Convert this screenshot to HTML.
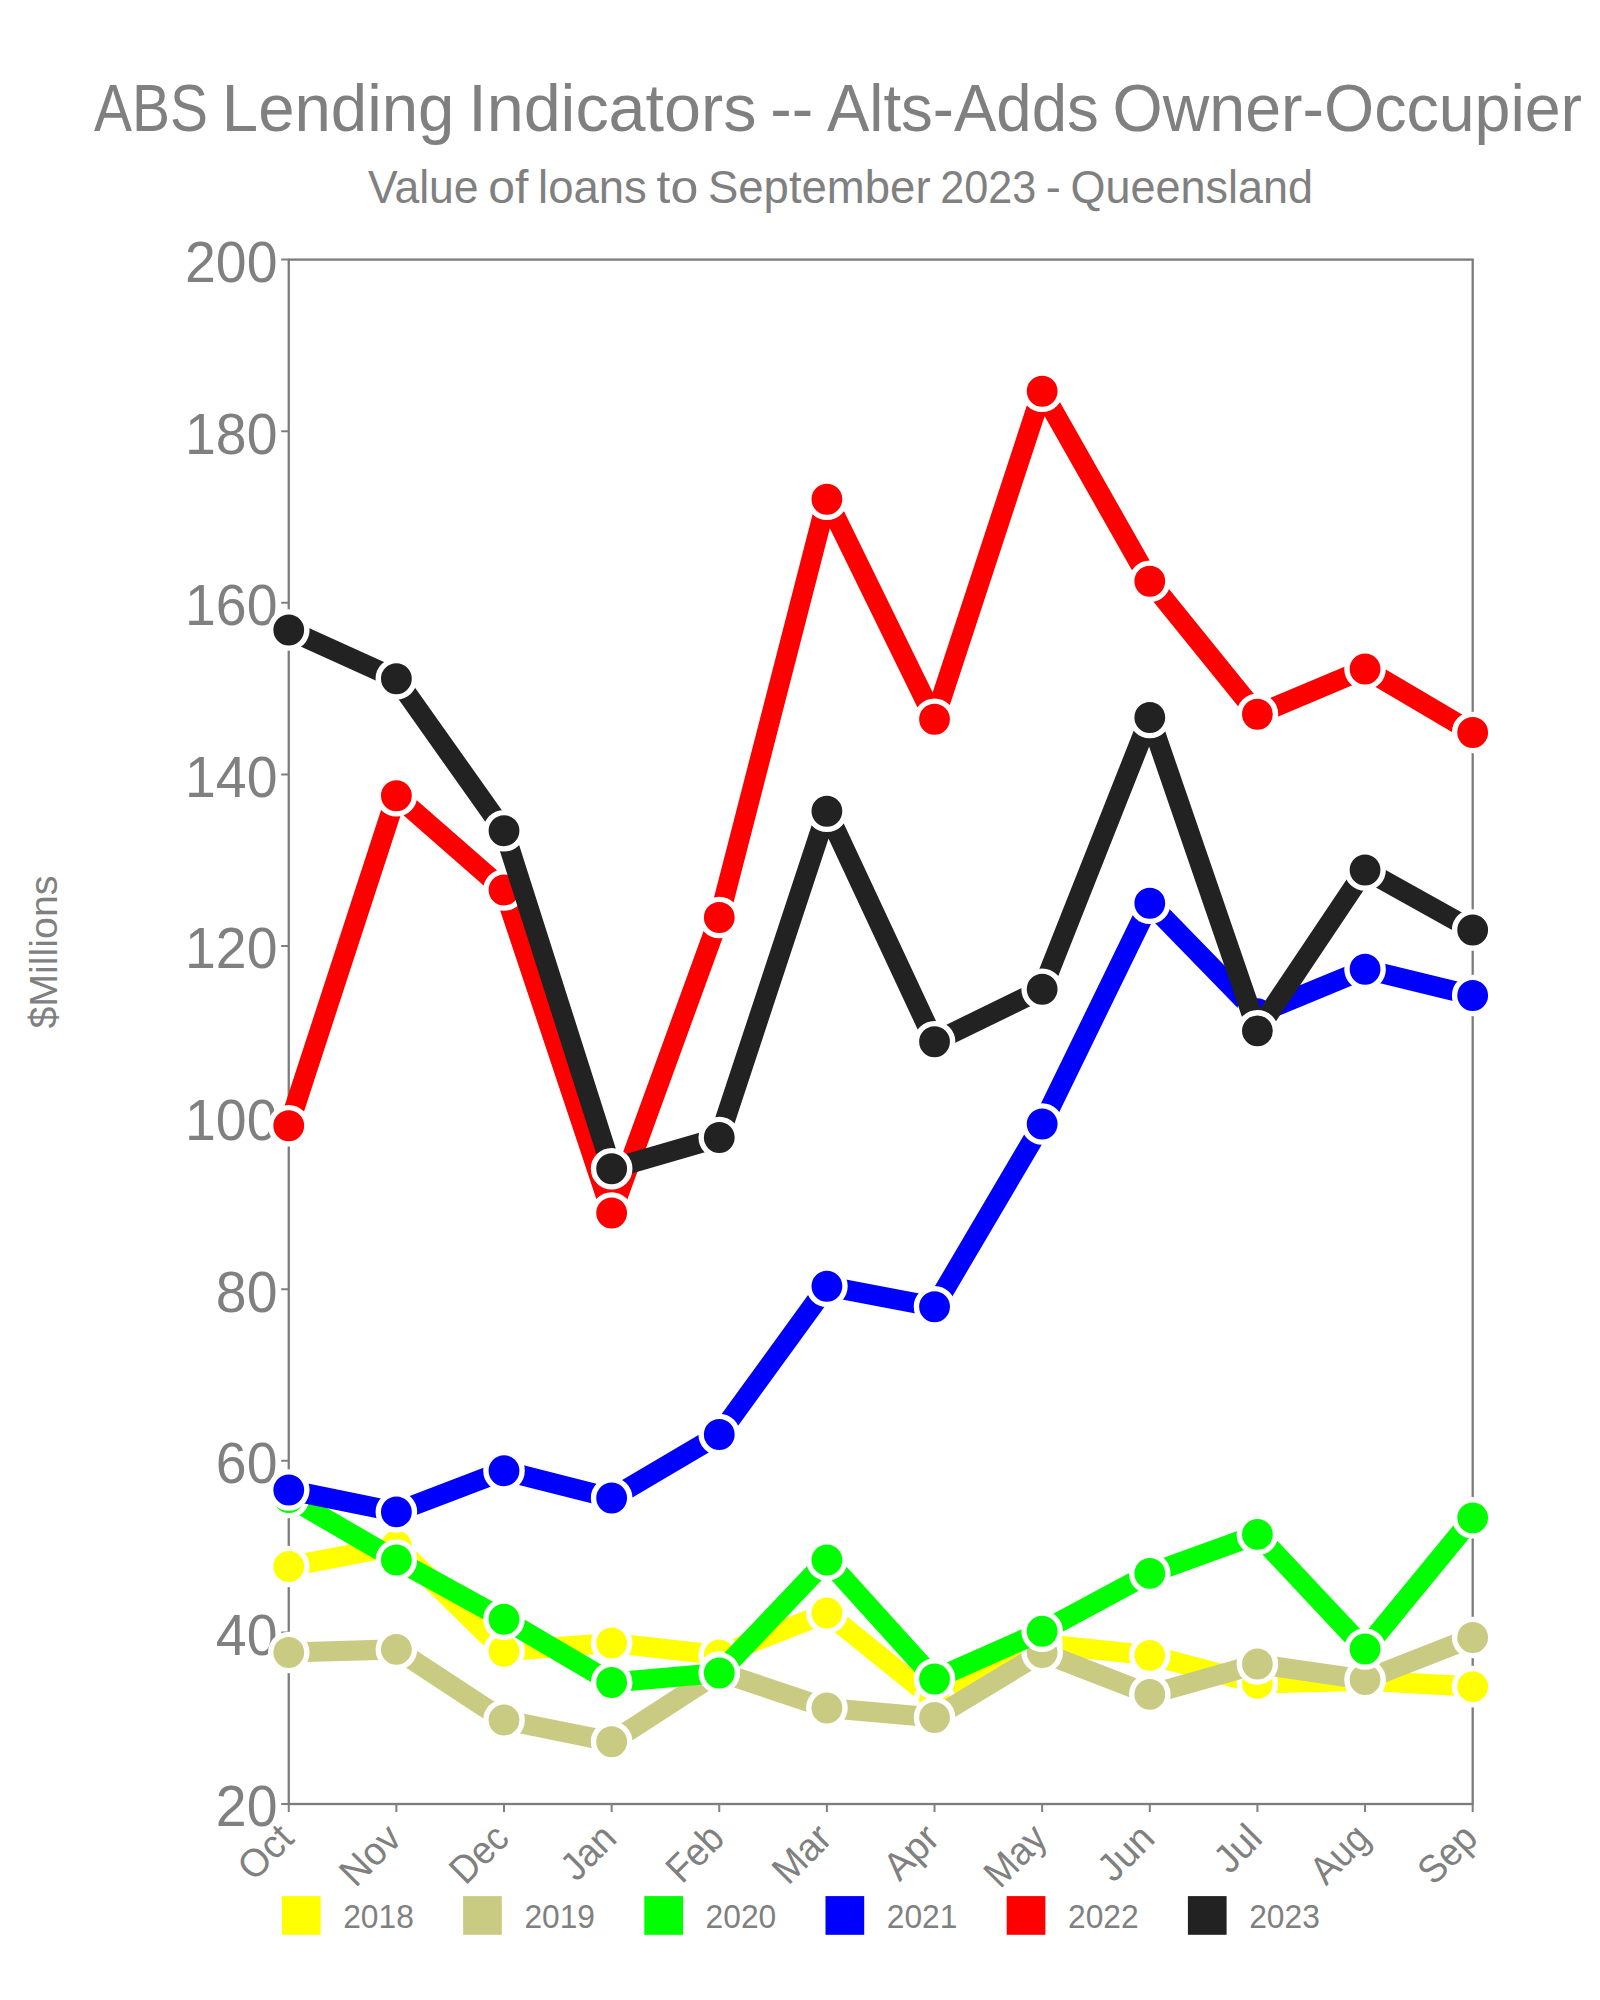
<!DOCTYPE html>
<html lang="en"><head><meta charset="utf-8"><title>ABS Lending Indicators -- Alts-Adds Owner-Occupier</title>
<style>html,body{margin:0;padding:0;background:#fff}body{width:1600px;height:2000px;overflow:hidden}svg{display:block}text{font-family:'Liberation Sans', sans-serif;fill:#808080}</style></head><body>
<svg width="1600" height="2000" viewBox="0 0 1600 2000">
<rect width="1600" height="2000" fill="#ffffff"/>
<text y="130.75" font-size="66.20"><tspan x="94.10" textLength="113.98" lengthAdjust="spacingAndGlyphs">ABS</tspan> <tspan x="221.87" textLength="232.55" lengthAdjust="spacingAndGlyphs">Lending</tspan> <tspan x="468.20" textLength="288.23" lengthAdjust="spacingAndGlyphs">Indicators</tspan> <tspan x="770.23" textLength="42.93" lengthAdjust="spacingAndGlyphs">--</tspan> <tspan x="826.97" textLength="271.81" lengthAdjust="spacingAndGlyphs">Alts-Adds</tspan> <tspan x="1112.56" textLength="469.56" lengthAdjust="spacingAndGlyphs">Owner-Occupier</tspan></text>
<text y="202.50" font-size="46.20"><tspan x="368.00" textLength="110.61" lengthAdjust="spacingAndGlyphs">Value</tspan> <tspan x="488.25" textLength="40.16" lengthAdjust="spacingAndGlyphs">of</tspan> <tspan x="538.05" textLength="108.77" lengthAdjust="spacingAndGlyphs">loans</tspan> <tspan x="656.46" textLength="41.82" lengthAdjust="spacingAndGlyphs">to</tspan> <tspan x="707.92" textLength="222.65" lengthAdjust="spacingAndGlyphs">September</tspan> <tspan x="940.21" textLength="95.97" lengthAdjust="spacingAndGlyphs">2023</tspan> <tspan x="1045.81" textLength="15.02" lengthAdjust="spacingAndGlyphs">-</tspan> <tspan x="1070.48" textLength="242.64" lengthAdjust="spacingAndGlyphs">Queensland</tspan></text>
<g fill="none" stroke="#7c7c7c" stroke-width="2.3">
<rect x="288.75" y="259.60" width="1183.95" height="1544.40"/>
<path d="M281.15 1804.00H288.75M281.15 1632.40H288.75M281.15 1460.80H288.75M281.15 1289.20H288.75M281.15 1117.60H288.75M281.15 946.00H288.75M281.15 774.40H288.75M281.15 602.80H288.75M281.15 431.20H288.75M281.15 259.60H288.75M288.75 1804.00V1812.00M396.38 1804.00V1812.00M504.01 1804.00V1812.00M611.64 1804.00V1812.00M719.27 1804.00V1812.00M826.90 1804.00V1812.00M934.53 1804.00V1812.00M1042.16 1804.00V1812.00M1149.79 1804.00V1812.00M1257.42 1804.00V1812.00M1365.05 1804.00V1812.00M1472.68 1804.00V1812.00" stroke="#808080" stroke-width="2"/>
</g>
<g>
<text x="277.50" y="1826.40" font-size="58.00" text-anchor="end" textLength="61.64" lengthAdjust="spacingAndGlyphs">20</text>
<text x="277.50" y="1654.80" font-size="58.00" text-anchor="end" textLength="61.64" lengthAdjust="spacingAndGlyphs">40</text>
<text x="277.50" y="1483.20" font-size="58.00" text-anchor="end" textLength="61.64" lengthAdjust="spacingAndGlyphs">60</text>
<text x="277.50" y="1311.60" font-size="58.00" text-anchor="end" textLength="61.64" lengthAdjust="spacingAndGlyphs">80</text>
<text x="277.50" y="1140.00" font-size="58.00" text-anchor="end" textLength="92.45" lengthAdjust="spacingAndGlyphs">100</text>
<text x="277.50" y="968.40" font-size="58.00" text-anchor="end" textLength="92.45" lengthAdjust="spacingAndGlyphs">120</text>
<text x="277.50" y="796.80" font-size="58.00" text-anchor="end" textLength="92.45" lengthAdjust="spacingAndGlyphs">140</text>
<text x="277.50" y="625.20" font-size="58.00" text-anchor="end" textLength="92.45" lengthAdjust="spacingAndGlyphs">160</text>
<text x="277.50" y="453.60" font-size="58.00" text-anchor="end" textLength="92.45" lengthAdjust="spacingAndGlyphs">180</text>
<text x="277.50" y="282.00" font-size="58.00" text-anchor="end" textLength="92.45" lengthAdjust="spacingAndGlyphs">200</text>
</g>
<text x="57.00" y="952.00" font-size="39.30" text-anchor="middle" textLength="153.10" lengthAdjust="spacingAndGlyphs" transform="rotate(-90 57.00 952.00)">$Millions</text>
<g>
<text x="295.75" y="1840.50" font-size="39.30" text-anchor="end" textLength="59.40" lengthAdjust="spacingAndGlyphs" transform="rotate(-45 295.75 1840.50)">Oct</text>
<text x="403.38" y="1840.50" font-size="39.30" text-anchor="end" textLength="67.75" lengthAdjust="spacingAndGlyphs" transform="rotate(-45 403.38 1840.50)">Nov</text>
<text x="511.01" y="1840.50" font-size="39.30" text-anchor="end" textLength="64.25" lengthAdjust="spacingAndGlyphs" transform="rotate(-45 511.01 1840.50)">Dec</text>
<text x="618.64" y="1840.50" font-size="39.30" text-anchor="end" textLength="59.70" lengthAdjust="spacingAndGlyphs" transform="rotate(-45 618.64 1840.50)">Jan</text>
<text x="726.27" y="1840.50" font-size="39.30" text-anchor="end" textLength="62.70" lengthAdjust="spacingAndGlyphs" transform="rotate(-45 726.27 1840.50)">Feb</text>
<text x="833.90" y="1840.50" font-size="39.30" text-anchor="end" textLength="64.70" lengthAdjust="spacingAndGlyphs" transform="rotate(-45 833.90 1840.50)">Mar</text>
<text x="941.53" y="1840.50" font-size="39.30" text-anchor="end" textLength="59.25" lengthAdjust="spacingAndGlyphs" transform="rotate(-45 941.53 1840.50)">Apr</text>
<text x="1049.16" y="1840.50" font-size="39.30" text-anchor="end" textLength="69.60" lengthAdjust="spacingAndGlyphs" transform="rotate(-45 1049.16 1840.50)">May</text>
<text x="1156.79" y="1840.50" font-size="39.30" text-anchor="end" textLength="61.20" lengthAdjust="spacingAndGlyphs" transform="rotate(-45 1156.79 1840.50)">Jun</text>
<text x="1264.42" y="1840.50" font-size="39.30" text-anchor="end" textLength="49.20" lengthAdjust="spacingAndGlyphs" transform="rotate(-45 1264.42 1840.50)">Jul</text>
<text x="1372.05" y="1840.50" font-size="39.30" text-anchor="end" textLength="65.00" lengthAdjust="spacingAndGlyphs" transform="rotate(-45 1372.05 1840.50)">Aug</text>
<text x="1479.68" y="1840.50" font-size="39.30" text-anchor="end" textLength="65.00" lengthAdjust="spacingAndGlyphs" transform="rotate(-45 1479.68 1840.50)">Sep</text>
</g>
<g><polyline points="288.75,1566.50 396.38,1546.00 504.01,1651.25 611.64,1643.00 719.27,1655.00 826.90,1613.00 934.53,1700.00 1042.16,1644.00 1149.79,1655.30 1257.42,1683.40 1365.05,1680.60 1472.68,1686.60" fill="none" stroke="#ffff00" stroke-width="20.2" stroke-linejoin="round" stroke-linecap="butt"/>
<g fill="#ffff00" stroke="#ffffff" stroke-width="5.4">
<circle cx="288.75" cy="1566.50" r="18.1"/>
<circle cx="396.38" cy="1546.00" r="18.1"/>
<circle cx="504.01" cy="1651.25" r="18.1"/>
<circle cx="611.64" cy="1643.00" r="18.1"/>
<circle cx="719.27" cy="1655.00" r="18.1"/>
<circle cx="826.90" cy="1613.00" r="18.1"/>
<circle cx="934.53" cy="1700.00" r="18.1"/>
<circle cx="1042.16" cy="1644.00" r="18.1"/>
<circle cx="1149.79" cy="1655.30" r="18.1"/>
<circle cx="1257.42" cy="1683.40" r="18.1"/>
<circle cx="1365.05" cy="1680.60" r="18.1"/>
<circle cx="1472.68" cy="1686.60" r="18.1"/>
</g></g>
<g><polyline points="288.75,1652.50 396.38,1649.40 504.01,1720.00 611.64,1741.75 719.27,1672.00 826.90,1708.00 934.53,1717.50 1042.16,1652.50 1149.79,1694.40 1257.42,1664.00 1365.05,1679.70 1472.68,1637.50" fill="none" stroke="#cacb82" stroke-width="20.2" stroke-linejoin="round" stroke-linecap="butt"/>
<g fill="#cacb82" stroke="#ffffff" stroke-width="5.4">
<circle cx="288.75" cy="1652.50" r="18.1"/>
<circle cx="396.38" cy="1649.40" r="18.1"/>
<circle cx="504.01" cy="1720.00" r="18.1"/>
<circle cx="611.64" cy="1741.75" r="18.1"/>
<circle cx="719.27" cy="1672.00" r="18.1"/>
<circle cx="826.90" cy="1708.00" r="18.1"/>
<circle cx="934.53" cy="1717.50" r="18.1"/>
<circle cx="1042.16" cy="1652.50" r="18.1"/>
<circle cx="1149.79" cy="1694.40" r="18.1"/>
<circle cx="1257.42" cy="1664.00" r="18.1"/>
<circle cx="1365.05" cy="1679.70" r="18.1"/>
<circle cx="1472.68" cy="1637.50" r="18.1"/>
</g></g>
<g><polyline points="288.75,1497.50 396.38,1560.00 504.01,1619.25 611.64,1682.50 719.27,1673.00 826.90,1560.00 934.53,1679.00 1042.16,1631.25 1149.79,1573.40 1257.42,1534.40 1365.05,1649.00 1472.68,1517.80" fill="none" stroke="#00ff00" stroke-width="20.2" stroke-linejoin="round" stroke-linecap="butt"/>
<g fill="#00ff00" stroke="#ffffff" stroke-width="5.4">
<circle cx="288.75" cy="1497.50" r="18.1"/>
<circle cx="396.38" cy="1560.00" r="18.1"/>
<circle cx="504.01" cy="1619.25" r="18.1"/>
<circle cx="611.64" cy="1682.50" r="18.1"/>
<circle cx="719.27" cy="1673.00" r="18.1"/>
<circle cx="826.90" cy="1560.00" r="18.1"/>
<circle cx="934.53" cy="1679.00" r="18.1"/>
<circle cx="1042.16" cy="1631.25" r="18.1"/>
<circle cx="1149.79" cy="1573.40" r="18.1"/>
<circle cx="1257.42" cy="1534.40" r="18.1"/>
<circle cx="1365.05" cy="1649.00" r="18.1"/>
<circle cx="1472.68" cy="1517.80" r="18.1"/>
</g></g>
<g><polyline points="288.75,1490.00 396.38,1511.90 504.01,1470.75 611.64,1498.00 719.27,1434.50 826.90,1286.25 934.53,1306.75 1042.16,1124.00 1149.79,903.25 1257.42,1013.75 1365.05,969.25 1472.68,995.50" fill="none" stroke="#0000ff" stroke-width="20.2" stroke-linejoin="round" stroke-linecap="butt"/>
<g fill="#0000ff" stroke="#ffffff" stroke-width="5.4">
<circle cx="288.75" cy="1490.00" r="18.1"/>
<circle cx="396.38" cy="1511.90" r="18.1"/>
<circle cx="504.01" cy="1470.75" r="18.1"/>
<circle cx="611.64" cy="1498.00" r="18.1"/>
<circle cx="719.27" cy="1434.50" r="18.1"/>
<circle cx="826.90" cy="1286.25" r="18.1"/>
<circle cx="934.53" cy="1306.75" r="18.1"/>
<circle cx="1042.16" cy="1124.00" r="18.1"/>
<circle cx="1149.79" cy="903.25" r="18.1"/>
<circle cx="1257.42" cy="1013.75" r="18.1"/>
<circle cx="1365.05" cy="969.25" r="18.1"/>
<circle cx="1472.68" cy="995.50" r="18.1"/>
</g></g>
<g><polyline points="288.75,1125.75 396.38,795.75 504.01,890.00 611.64,1213.00 719.27,917.50 826.90,499.25 934.53,719.25 1042.16,391.25 1149.79,581.25 1257.42,714.25 1365.05,669.00 1472.68,732.50" fill="none" stroke="#ff0000" stroke-width="20.2" stroke-linejoin="round" stroke-linecap="butt"/>
<g fill="#ff0000" stroke="#ffffff" stroke-width="5.4">
<circle cx="288.75" cy="1125.75" r="18.1"/>
<circle cx="396.38" cy="795.75" r="18.1"/>
<circle cx="504.01" cy="890.00" r="18.1"/>
<circle cx="611.64" cy="1213.00" r="18.1"/>
<circle cx="719.27" cy="917.50" r="18.1"/>
<circle cx="826.90" cy="499.25" r="18.1"/>
<circle cx="934.53" cy="719.25" r="18.1"/>
<circle cx="1042.16" cy="391.25" r="18.1"/>
<circle cx="1149.79" cy="581.25" r="18.1"/>
<circle cx="1257.42" cy="714.25" r="18.1"/>
<circle cx="1365.05" cy="669.00" r="18.1"/>
<circle cx="1472.68" cy="732.50" r="18.1"/>
</g></g>
<g><polyline points="288.75,630.00 396.38,678.75 504.01,830.75 611.64,1168.75 719.27,1137.50 826.90,811.25 934.53,1041.75 1042.16,989.25 1149.79,717.50 1257.42,1030.80 1365.05,870.00 1472.68,930.00" fill="none" stroke="#222222" stroke-width="20.2" stroke-linejoin="round" stroke-linecap="butt"/>
<g fill="#222222" stroke="#ffffff" stroke-width="5.4">
<circle cx="288.75" cy="630.00" r="18.1"/>
<circle cx="396.38" cy="678.75" r="18.1"/>
<circle cx="504.01" cy="830.75" r="18.1"/>
<circle cx="611.64" cy="1168.75" r="18.1"/>
<circle cx="719.27" cy="1137.50" r="18.1"/>
<circle cx="826.90" cy="811.25" r="18.1"/>
<circle cx="934.53" cy="1041.75" r="18.1"/>
<circle cx="1042.16" cy="989.25" r="18.1"/>
<circle cx="1149.79" cy="717.50" r="18.1"/>
<circle cx="1257.42" cy="1030.80" r="18.1"/>
<circle cx="1365.05" cy="870.00" r="18.1"/>
<circle cx="1472.68" cy="930.00" r="18.1"/>
</g></g>
<rect x="281.90" y="1896.10" width="38.7" height="38.7" fill="#ffff00"/>
<text x="343.20" y="1927.50" font-size="33.00" textLength="70.60" lengthAdjust="spacingAndGlyphs">2018</text>
<rect x="463.10" y="1896.10" width="38.7" height="38.7" fill="#cacb82"/>
<text x="524.40" y="1927.50" font-size="33.00" textLength="70.60" lengthAdjust="spacingAndGlyphs">2019</text>
<rect x="644.30" y="1896.10" width="38.7" height="38.7" fill="#00ff00"/>
<text x="705.60" y="1927.50" font-size="33.00" textLength="70.60" lengthAdjust="spacingAndGlyphs">2020</text>
<rect x="825.50" y="1896.10" width="38.7" height="38.7" fill="#0000ff"/>
<text x="886.80" y="1927.50" font-size="33.00" textLength="70.60" lengthAdjust="spacingAndGlyphs">2021</text>
<rect x="1006.70" y="1896.10" width="38.7" height="38.7" fill="#ff0000"/>
<text x="1068.00" y="1927.50" font-size="33.00" textLength="70.60" lengthAdjust="spacingAndGlyphs">2022</text>
<rect x="1187.90" y="1896.10" width="38.7" height="38.7" fill="#222222"/>
<text x="1249.20" y="1927.50" font-size="33.00" textLength="70.60" lengthAdjust="spacingAndGlyphs">2023</text>
</svg></body></html>
